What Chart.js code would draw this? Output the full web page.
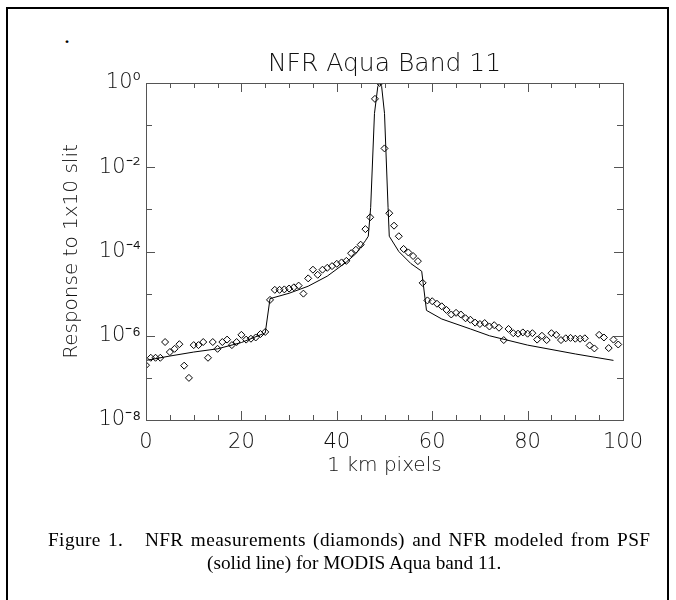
<!DOCTYPE html>
<html>
<head>
<meta charset="utf-8">
<script src="https://cdn.jsdelivr.net/npm/chart.js@4.4.1/dist/chart.umd.min.js"></script>
<style>
  html, body { margin: 0; padding: 0; background: #fff; }
  #wrap { position: relative; width: 676px; height: 600px; overflow: hidden; }
  #frame { position: absolute; left: 6px; top: 7px; width: 659px; height: 700px; border: 2px solid #000; }
  #chart { position: absolute; left: 0; top: 0; }
  #dot { position: absolute; left: 64px; top: 22px; font: 24px "Liberation Serif", serif; }
  .cap { position: absolute; white-space: pre; font: 19.3px "Liberation Serif", serif;
         color: #000; line-height: 22px; }
</style>
</head>
<body>
<div id="wrap">
  <div id="frame"></div>
  <div id="dot">.</div>
  <canvas id="chart" width="676" height="600"></canvas>
  <div class="cap" style="top:529px; left:48px; letter-spacing:0.4px; word-spacing:2px">Figure 1.   NFR measurements (diamonds) and NFR modeled from PSF</div>
  <div class="cap" style="top:552px; left:207px">(solid line) for MODIS Aqua band 11.</div>
</div>
<script>
// mjerenja NFR po pikselima (dijamanti)
const measuredX = [
  0, 1, 2, 3, 4, 5, 6, 7, 8, 9, 10, 11, 12, 13, 14, 15, 16, 17, 18, 19,
  20, 21, 22, 23, 24, 25, 26, 27, 28, 29, 30, 31, 32, 33, 34, 35, 36, 37, 38, 39,
  40, 41, 42, 43, 44, 45, 46, 47, 48, 49, 50, 51, 52, 53, 54, 55, 56, 57, 58, 59,
  60, 61, 62, 63, 64, 65, 66, 67, 68, 69, 70, 71, 72, 73, 74, 75, 76, 77, 78, 79,
  80, 81, 82, 83, 84, 85, 86, 87, 88, 89, 90, 91, 92, 93, 94, 95, 96, 97, 98, 99
];
const measuredY = [
  2.0e-7, 3.0e-7, 3.0e-7, 3.0e-7, 7.1e-7, 4.1e-7, 4.9e-7, 6.3e-7, 1.95e-7, 1.0e-7,
  6.0e-7, 6.0e-7, 7.1e-7, 3.0e-7, 7.1e-7, 4.9e-7, 7.1e-7, 8.1e-7, 6.0e-7, 7.1e-7,
  1.05e-6, 8.1e-7, 8.5e-7, 9.1e-7, 1.1e-6, 1.23e-6, 7.1e-6, 1.23e-5, 1.23e-5, 1.26e-5,
  1.32e-5, 1.41e-5, 1.55e-5, 1.0e-5, 2.3e-5, 3.7e-5, 2.8e-5, 3.7e-5, 4.1e-5, 4.5e-5,
  5.1e-5, 5.5e-5, 6.0e-5, 9.1e-5, 1.1e-4, 1.45e-4, 3.4e-4, 6.5e-4, 0.42, 1.0,
  0.028, 8.1e-4, 4.1e-4, 2.3e-4, 1.15e-4, 9.5e-5, 7.8e-5, 5.9e-5, 1.8e-5, 6.9e-6,
  6.6e-6, 5.75e-6, 5.0e-6, 4.1e-6, 3.2e-6, 3.5e-6, 3.2e-6, 2.6e-6, 2.4e-6, 2.05e-6,
  1.9e-6, 2.0e-6, 1.66e-6, 1.78e-6, 1.55e-6, 7.9e-7, 1.45e-6, 1.15e-6, 1.12e-6, 1.2e-6,
  1.12e-6, 1.15e-6, 8.1e-7, 1.0e-6, 7.9e-7, 1.15e-6, 1.05e-6, 7.9e-7, 8.7e-7, 8.9e-7,
  8.5e-7, 8.5e-7, 8.7e-7, 5.9e-7, 5.0e-7, 1.05e-6, 9.1e-7, 5.1e-7, 8.1e-7, 6.2e-7
];

// model iz PSF (puna linija)
const modelX = [0, 5, 10, 15, 20, 25, 26, 30, 34, 38, 42, 44, 46, 46.6, 47.1, 47.9, 48.6, 49,
  49.4, 50, 50.75, 51, 53, 55.5, 57.8, 58.8, 62, 68, 72, 80, 90, 98];
const modelY = [2.6e-7, 3.3e-7, 4.1e-7, 4.9e-7, 6.9e-7, 1.17e-6, 7.6e-6, 1.02e-5, 1.5e-5, 2.6e-5,
  5.6e-5, 8.9e-5, 1.8e-4, 2.3e-4, 1.1e-3, 0.19, 0.83, 1.0,
  0.83, 0.19, 1.1e-3, 2.3e-4, 1.0e-4, 5.2e-5, 3.4e-5, 4.0e-6, 2.5e-6, 1.45e-6, 1.0e-6, 6.0e-7, 3.7e-7, 2.6e-7];

// oznake osi
const xTickValues = [0, 5, 10, 15, 20, 25, 30, 35, 40, 45, 50, 55, 60, 65, 70, 75, 80, 85, 90, 95, 100];
const xTickLabels = ["0", "", "", "", "20", "", "", "", "40", "", "", "", "60", "", "", "", "80", "", "", "", "100"];
const yTickValues = [1, 1e-1, 1e-2, 1e-3, 1e-4, 1e-5, 1e-6, 1e-7, 1e-8];
const yTickLabels = ["10\u2070", "", "10\u207B\u00B2", "", "10\u207B\u2074", "", "10\u207B\u2076", "", "10\u207B\u2078"];

const axisColor = "#555";
const textColor = "#111";
const sansFont = '"DejaVu Sans", sans-serif';

// kratke crtice prema unutra na sve cetiri strane, plus okvir
const innerTicks = {
  id: "innerTicks",
  afterDraw(chart) {
    const { ctx, chartArea: a, scales } = chart;
    ctx.save();
    ctx.strokeStyle = axisColor;
    ctx.lineWidth = 1;
    ctx.strokeRect(Math.round(a.left) + 0.5, Math.round(a.top) + 0.5,
      Math.round(a.right) - Math.round(a.left), Math.round(a.bottom) - Math.round(a.top));
    ctx.beginPath();
    scales.x.ticks.forEach((t, i) => {
      const px = Math.round(scales.x.getPixelForValue(t.value)) + 0.5;
      const len = xTickLabels[i] ? 9 : 5;
      ctx.moveTo(px, a.bottom); ctx.lineTo(px, a.bottom - len);
      ctx.moveTo(px, a.top); ctx.lineTo(px, a.top + len);
    });
    scales.y.ticks.forEach((t, i) => {
      const py = Math.round(scales.y.getPixelForValue(t.value)) + 0.5;
      const len = yTickLabels[i] ? 9 : 6;
      ctx.moveTo(a.left, py); ctx.lineTo(a.left + len, py);
      ctx.moveTo(a.right, py); ctx.lineTo(a.right - len, py);
    });
    ctx.stroke();
    ctx.restore();
  }
};

new Chart(document.getElementById("chart"), {
  type: "scatter",
  data: {
    datasets: [
      {
        label: "NFR modeled from PSF",
        data: modelX.map((x, i) => ({ x: x, y: modelY[i] })),
        showLine: true,
        borderColor: "#000",
        borderWidth: 1,
        pointRadius: 0,
        tension: 0
      },
      {
        label: "NFR measurements",
        data: measuredX.map((x, i) => ({ x: x, y: measuredY[i] })),
        pointStyle: "rectRot",
        pointRadius: 3.5,
        borderColor: "#000",
        borderWidth: 1,
        backgroundColor: "rgba(255,255,255,0)"
      }
    ]
  },
  options: {
    responsive: false,
    animation: false,
    devicePixelRatio: 1,
    layout: { padding: { left: 60, right: 53, top: 0, bottom: 122 } },
    plugins: {
      legend: { display: false },
      tooltip: { enabled: false },
      title: {
        display: true,
        fullSize: false,
        text: "NFR Aqua Band 11",
        color: textColor,
        font: { family: sansFont, size: 25, weight: 200 },
        padding: { top: 49, bottom: 4 }
      }
    },
    scales: {
      x: {
        type: "linear",
        min: 0,
        max: 100,
        grid: { display: false, drawTicks: false },
        border: { display: false },
        afterBuildTicks: (s) => { s.ticks = xTickValues.map(v => ({ value: v })); },
        afterFit: (s) => { s.height = 58; },
        ticks: {
          autoSkip: false,
          maxRotation: 0,
          padding: 10,
          color: textColor,
          font: { family: sansFont, size: 21, weight: 200 },
          callback: (v, i) => xTickLabels[i]
        },
        title: {
          display: true,
          text: "1 km pixels",
          color: textColor,
          padding: 0,
          font: { family: sansFont, size: 20, weight: 200 }
        }
      },
      y: {
        type: "logarithmic",
        min: 1e-8,
        max: 1,
        grid: { display: false, drawTicks: false },
        border: { display: false },
        afterBuildTicks: (s) => { s.ticks = yTickValues.map(v => ({ value: v })); },
        afterFit: (s) => { s.width = 86; },
        ticks: {
          autoSkip: false,
          padding: 5,
          color: textColor,
          font: { family: sansFont, size: 21, weight: 200 },
          callback: (v, i) => yTickLabels[i]
        },
        title: {
          display: true,
          text: "Response to 1x10 slit",
          color: textColor,
          padding: 0,
          font: { family: sansFont, size: 20, weight: 200 }
        }
      }
    }
  },
  plugins: [innerTicks]
});
</script>
</body>
</html>
